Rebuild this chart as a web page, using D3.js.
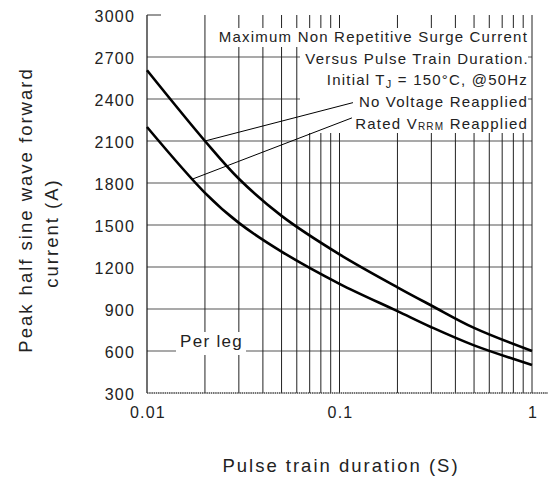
<!DOCTYPE html>
<html>
<head>
<meta charset="utf-8">
<script src="https://cdn.jsdelivr.net/npm/d3@7"></script>
<style>
  html, body { margin: 0; padding: 0; background: #fff; }
  svg { display: block; font-family: "Liberation Sans", Arial, Helvetica, sans-serif; }
</style>
</head>
<body>
<svg id="chart" width="552" height="477"></svg>
<script>
// ---- data ----
const durations = [0.01, 0.02, 0.03, 0.05, 0.1, 0.2, 0.3, 0.5, 1];
const noVoltage = [2605, 2100, 1830, 1565, 1290, 1055, 925, 765, 600];
const ratedVrrm = [2200, 1730, 1515, 1310, 1080, 885, 770, 640, 500];
const yTickValues = [300, 600, 900, 1200, 1500, 1800, 2100, 2400, 2700, 3000];
const xTickValues = [0.01, 0.1, 1];
const xTickLabels = ["0.01", "0.1", "1"];
const xGridValues = [0.02,0.03,0.04,0.05,0.06,0.07,0.08,0.09,0.1,0.2,0.3,0.4,0.5,0.6,0.7,0.8,0.9,1];
// leader lines: [start point on curve, end point near label] in data units
const leaderNoVoltage = [[0.02, 2100], [0.1175, 2374]];
const leaderRated = [[0.0173, 1829], [0.116, 2265]];

const svg = d3.select("#chart");
const L = 147, R = 532, T = 15, B = 393;
const x = d3.scaleLog().domain([0.01, 1]).range([L, R]);
const y = d3.scaleLinear().domain([300, 3000]).range([B, T]);

// horizontal grid
svg.append("g").selectAll("line").data(yTickValues.filter(v => v > 300 && v < 3000)).join("line")
  .attr("x1", L).attr("x2", R).attr("y1", d => y(d)).attr("y2", d => y(d))
  .attr("stroke", "#555").attr("stroke-width", 1.2);
// vertical grid
svg.append("g").selectAll("line").data(xGridValues).join("line")
  .attr("x1", d => x(d)).attr("x2", d => x(d)).attr("y1", T).attr("y2", B)
  .attr("stroke", "#222").attr("stroke-width", 1);
// left axis
svg.append("line").attr("x1", L).attr("x2", L).attr("y1", T).attr("y2", B)
  .attr("stroke", "#111").attr("stroke-width", 1.2);
// top tick at 3000
svg.append("line").attr("x1", L).attr("x2", L + 14).attr("y1", y(3000)).attr("y2", y(3000))
  .attr("stroke", "#333").attr("stroke-width", 1);
// bottom axis (dotted)
svg.append("line").attr("x1", L).attr("x2", 548).attr("y1", y(300)).attr("y2", y(300))
  .attr("stroke", "#444").attr("stroke-width", 1.3).attr("stroke-dasharray", "1.5,0.7");

// white label backgrounds
svg.append("rect").attr("x", 216).attr("y", 28).attr("width", 312).attr("height", 19).attr("fill", "#fff");
svg.append("rect").attr("x", 300).attr("y", 46).attr("width", 228).attr("height", 87).attr("fill", "#fff");
svg.append("rect").attr("x", 176).attr("y", 332).attr("width", 70).attr("height", 23).attr("fill", "#fff");

// curves
const line = d3.line().x(d => x(d[0])).y(d => y(d[1])).curve(d3.curveCatmullRom.alpha(0.5));
[noVoltage, ratedVrrm].forEach(series => {
  svg.append("path").datum(durations.map((t, i) => [t, series[i]]))
    .attr("d", line).attr("fill", "none").attr("stroke", "#000").attr("stroke-width", 2.6);
});

// leader lines
[leaderNoVoltage, leaderRated].forEach(l => {
  svg.append("line").attr("x1", x(l[0][0])).attr("y1", y(l[0][1]))
    .attr("x2", x(l[1][0])).attr("y2", y(l[1][1]))
    .attr("stroke", "#000").attr("stroke-width", 1);
});

// annotation text
const ann = svg.append("g").attr("font-size", 15).attr("fill", "#222")
  .attr("text-anchor", "end").style("letter-spacing", "1.2px");
ann.append("text").attr("x", 528).attr("y", 42).text("Maximum Non Repetitive Surge Current");
ann.append("text").attr("x", 529).attr("y", 63.5).text("Versus Pulse Train Duration.");
const t3 = ann.append("text").attr("x", 528).attr("y", 85);
t3.append("tspan").text("Initial T");
t3.append("tspan").attr("font-size", 11).attr("dy", 3).text("J");
t3.append("tspan").attr("dy", -3).text(" = 150°C, @50Hz");
ann.append("text").attr("x", 528).attr("y", 107).text("No Voltage Reapplied");
const t5 = ann.append("text").attr("x", 528).attr("y", 128.5);
t5.append("tspan").text("Rated V");
t5.append("tspan").attr("font-size", 10).attr("dy", 1).text("RRM");
t5.append("tspan").attr("dy", -1).text(" Reapplied");

svg.append("text").attr("x", 180).attr("y", 347).attr("font-size", 17).attr("fill", "#222")
  .style("letter-spacing", "1.3px").text("Per leg");

// y tick labels
svg.append("g").attr("font-size", 16).attr("fill", "#222").attr("text-anchor", "end")
  .style("letter-spacing", "1.2px")
  .selectAll("text").data(yTickValues).join("text")
  .attr("x", 135).attr("y", d => y(d) + 6.5).text(d => d);
// x tick labels
svg.append("g").attr("font-size", 16).attr("fill", "#222").attr("text-anchor", "middle")
  .style("letter-spacing", "1.2px")
  .selectAll("text").data(xTickValues).join("text")
  .attr("x", d => x(d) + 1).attr("y", 418).text((d, i) => xTickLabels[i]);

// axis titles
svg.append("text").attr("x", 341).attr("y", 472).attr("font-size", 18.5).attr("fill", "#222")
  .attr("text-anchor", "middle").style("letter-spacing", "2px").text("Pulse train duration (S)");
svg.append("text").attr("transform", "translate(32,210) rotate(-90)").attr("font-size", 18.5)
  .attr("fill", "#222").attr("text-anchor", "middle").style("letter-spacing", "2px")
  .text("Peak half sine wave forward");
svg.append("text").attr("transform", "translate(58,233) rotate(-90)").attr("font-size", 18.5)
  .attr("fill", "#222").attr("text-anchor", "middle").style("letter-spacing", "2px")
  .text("current (A)");
</script>
</body>
</html>
